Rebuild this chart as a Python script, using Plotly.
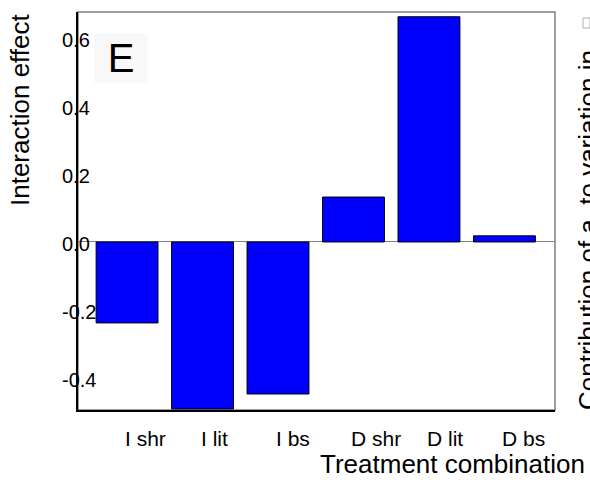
import plotly.graph_objects as go

# Interaction effects per treatment combination
treatments = ["I shr", "I lit", "I bs", "D shr", "D lit", "D bs"]
effects = [-0.238, -0.491, -0.447, 0.132, 0.662, 0.018]
ytick_vals = [-0.4, -0.2, 0.0, 0.2, 0.4, 0.6]
ytick_text = ["-0.4", "-0.2", "0.0", "0.2", "0.4", "0.6"]

FONT = "Liberation Sans, Arial, sans-serif"
W, H = 590, 483
L, R, T, B = 78, 35, 12, 73
PW, PH = W - L - R, H - T - B


def px_x(p):
    return (p - L) / PW


def px_y(p):
    return (H - B - p) / PH


fig = go.Figure(
    go.Bar(
        x=treatments,
        y=effects,
        width=0.82,
        marker=dict(color="#0000ff", line=dict(color="black", width=1)),
    )
)

annotations = []
# category labels, left-aligned at each bar centre
for t in treatments:
    annotations.append(dict(
        x=t, xref="x", y=px_y(438), yref="paper", text=t, showarrow=False,
        xanchor="left", yanchor="middle", xshift=-4,
        font=dict(family=FONT, size=21, color="black"),
    ))
# value labels straddling the left axis line
for v, s in zip(ytick_vals, ytick_text):
    annotations.append(dict(
        x=px_x(62), xref="paper", y=v, yref="y", text=s, showarrow=False,
        xanchor="left", yanchor="middle", xshift=-2, yshift=-2,
        font=dict(family=FONT, size=20, color="black"),
    ))
annotations += [
    dict(x=px_x(20), xref="paper", y=px_y(110), yref="paper",
         text="Interaction effect", textangle=-90, showarrow=False,
         xanchor="center", yanchor="middle",
         font=dict(family=FONT, size=26, color="black")),
    dict(x=px_x(452), xref="paper", y=px_y(464), yref="paper",
         text="Treatment combination", showarrow=False,
         xanchor="center", yanchor="middle",
         font=dict(family=FONT, size=26, color="black")),
    dict(x=px_x(571), xref="paper", y=px_y(412), yref="paper",
         text="Contribution of a  to variation in", textangle=-90,
         showarrow=False, xanchor="left", yanchor="bottom",
         font=dict(family=FONT, size=26, color="black")),
    dict(x=px_x(121), xref="paper", y=px_y(58), yref="paper",
         text="E", showarrow=False, xanchor="center", yanchor="middle",
         bgcolor="#f8f8f8", width=50, height=46,
         font=dict(family=FONT, size=40, color="black")),
]

shapes = [
    # grey frame on top and right
    dict(type="rect", xref="paper", yref="paper", x0=0, x1=1, y0=0, y1=1,
         line=dict(color="#7f7f7f", width=1.5), layer="below"),
    # unrendered glyph box continuing the right-hand label
    dict(type="rect", xref="paper", yref="paper",
         x0=px_x(583), x1=px_x(590), y0=px_y(28), y1=px_y(18),
         line=dict(color="#b0b0b0", width=1)),
]

fig.update_layout(
    width=W, height=H,
    margin=dict(l=L, r=R, t=T, b=B, pad=0),
    paper_bgcolor="white", plot_bgcolor="white",
    showlegend=False,
    annotations=annotations,
    shapes=shapes,
    xaxis=dict(range=[-0.65, 5.67], showticklabels=False, ticks="",
               showgrid=False, zeroline=False,
               showline=True, linecolor="black", linewidth=1.5, mirror=False),
    yaxis=dict(range=[-0.494, 0.676], showticklabels=False, ticks="",
               showgrid=False, zeroline=True, zerolinecolor="#808080",
               zerolinewidth=1,
               showline=True, linecolor="black", linewidth=1.5, mirror=False),
)

fig.write_html("out.html")
